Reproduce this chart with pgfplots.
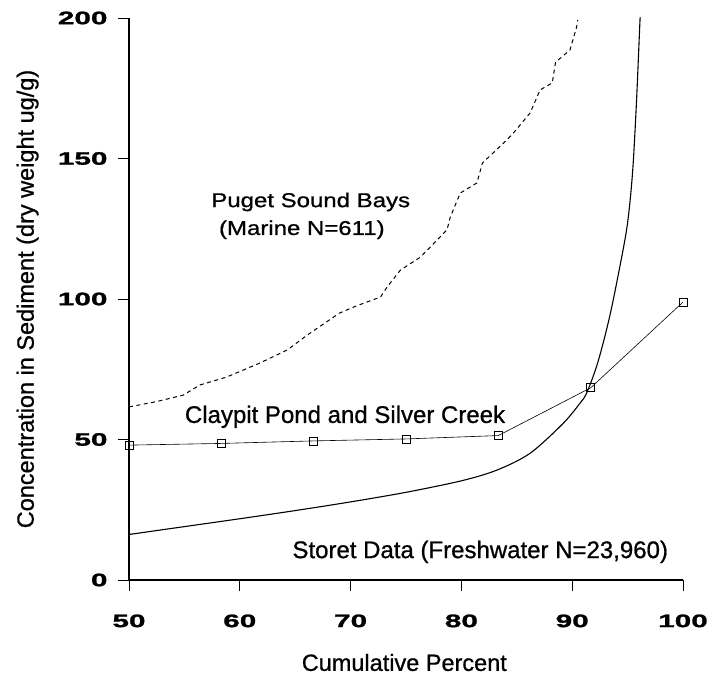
\documentclass[border=0pt]{standalone}
\usepackage{fontspec}
\setmainfont{Liberation Sans}[FakeBold=0.8]
\newfontfamily\tickfont{Liberation Sans}[FakeStretch=1.65, FakeBold=1.5]
\newfontfamily\widefont{Liberation Sans}[FakeStretch=1.2, FakeBold=0.8]
\usepackage{pgfplots}
\pgfplotsset{compat=1.18}

\newcommand\lblfont{\fontsize{23.5}{26}\selectfont}
\newcommand\curvefont{\fontsize{24}{26}\selectfont}
\newcommand\pugetfont{\widefont\fontsize{20}{22}\selectfont}

\begin{document}
\begin{tikzpicture}
\begin{axis}[
  at={(0,0)}, anchor=south west,
  scale only axis, width=554pt, height=562pt,
  xmin=50, xmax=100, ymin=0, ymax=200,
  axis lines*=left,
  axis line style={line width=1.3pt},
  xtick={50,60,...,100}, ytick={0,50,...,200},
  tick align=outside, major tick length=11pt,
  tick style={black, line width=0.9pt},
  /pgf/number format/assume math mode=true,
  tick label style={font=\tickfont\bfseries\fontsize{18}{18}\selectfont},
  xticklabel style={yshift=-20pt},
  yticklabel style={xshift=-7pt},
  xlabel={Cumulative Percent},
  ylabel={Concentration in Sediment (dry weight ug/g)},
  label style={font=\lblfont},
  xlabel style={at={(axis description cs:0.497,0)}, anchor=center, yshift=-82.5pt},
  ylabel style={at={(axis description cs:-0.183,0.5)}, anchor=center},
]
% Puget Sound Bays (marine)
\addplot[black, line width=1pt, dash pattern=on 4pt off 3.5pt] coordinates {
  (50,61.6) (52.5,63.5) (54.9,65.8) (56.4,69.4) (58.8,72.2) (61.8,77.2)
  (64.3,81.9) (66.1,87.2) (69.0,95.0) (70.5,97.5) (72.7,100.7) (73.3,104.3)
  (74.5,110.3) (76.3,114.9) (78.7,124.6) (79.0,129.2) (79.9,137.7)
  (81.4,141.3) (81.9,148.4) (84.1,156.6) (84.7,159.1) (86.2,166.2)
  (87.1,174.4) (88.2,176.9) (88.5,184.3) (89.8,188.6) (90.4,196.8) (90.5,199.3)
};
% Storet data (freshwater)
\addplot[black, line width=1.1pt, smooth] coordinates {
  (50,16.2) (55,19.0) (60,21.8) (65,24.7) (70,27.8) (75,31.2)
  (80,35.3) (83.2,39.1) (86.2,45.1) (89.2,55.8)
  (90.7,62.9) (91.3,66.5) (92.2,76.0) (93.0,87.5) (93.7,99.6)
  (94.8,122) (95.2,134) (95.5,148) (95.8,170) (96.1,197.5) (96.13,200)
};
% Claypit Pond and Silver Creek
\addplot[black, line width=0.6pt, mark=square, mark size=4pt,
  mark options={line width=0.8pt}] coordinates {
  (50,48.0) (58.33,48.6) (66.67,49.5) (75,50.2) (83.33,51.4)
  (91.67,68.4) (100,98.9)
};
\node[font=\pugetfont, anchor=base] at (axis cs:66.4,132.7) {Puget Sound Bays};
\node[font=\pugetfont, anchor=base] at (axis cs:65.6,122.8) {(Marine N=611)};
\node[font=\curvefont, anchor=base] at (axis cs:69.5,55.9) {Claypit Pond and Silver Creek};
\node[font=\curvefont, anchor=base] at (axis cs:81.7,7.8) {Storet Data (Freshwater N=23,960)};
\end{axis}
\pgfresetboundingbox
\path[use as bounding box] (-129pt,-100pt) rectangle (580pt,580pt);
\end{tikzpicture}
\end{document}
